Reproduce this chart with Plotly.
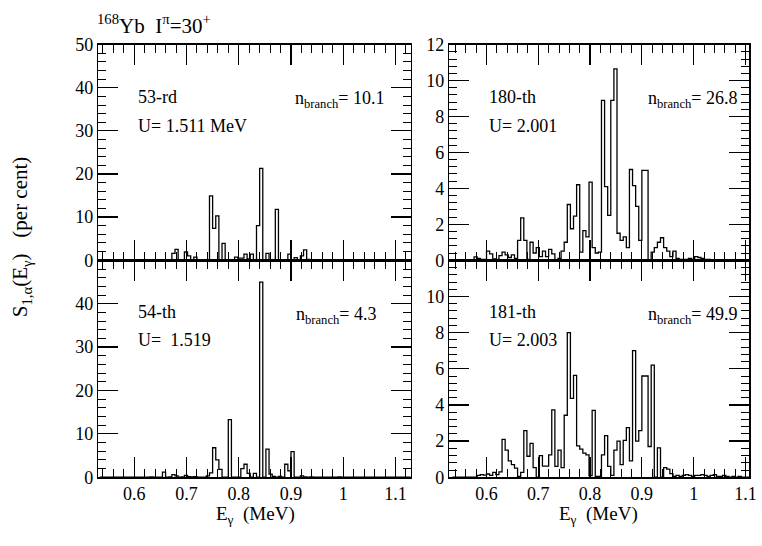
import plotly.graph_objects as go

# ---------------- data ----------------
bin_width = 0.006          # MeV
first_edge = 0.534         # lower edge of first bin (MeV)

# 53-rd state, U = 1.511 MeV  (top-left), per cent
tl_heights = [
    0, 0, 0, 0, 0, 0, 0, 0, 0, 0,
    0, 0, 0, 0, 0, 0, 0, 0, 0, 0,
    0, 0, 0, 1.6, 2.5, 0, 0, 1.9, 1.0, 0,
    0.7, 0, 0, 0, 0, 14.9, 7.4, 10.3, 0, 3.9,
    0, 0, 0.1, 0.7, 0.5, 0.5, 1.4, 0.3, 1.4, 0,
    8.0, 21.3, 0, 1.6, 0, 0, 11.8, 0, 0, 0,
    1.4, 0, 0.6, 0, 1.0, 2.4, 0.2, 0.1, 0, 0,
    0, 0, 0, 0, 0, 0, 0, 0, 0, 0,
    0, 0, 0, 0, 0, 0, 0, 0, 0, 0,
    0, 0, 0, 0, 0, 0, 0, 0, 0, 0,
]

# 54-th state, U = 1.519 (bottom-left)
bl_heights = [
    0, 0, 0, 0, 0, 0, 0, 0, 0, 0,
    0, 0, 0, 0, 0, 0, 0.1, 0, 0, 0,
    1.2, 0, 0.1, 0.6, 0.3, 0, 0.1, 0.4, 0.15, 0.1,
    0.15, 0, 0, 0, 0.3, 1.0, 6.8, 4.0, 1.8, 0,
    0, 13.3, 0, 0, 0, 2.0, 3.0, 0.9, 0, 0.9,
    0, 45.0, 0, 6.5, 0.7, 0.2, 0, 0.2, 0, 3.0,
    1.5, 5.9, 0, 0, 0.3, 0.1, 0, 0.1, 0, 0,
    0, 0, 0, 0, 0, 0, 0.1, 0, 0, 0,
    0, 0, 0, 0, 0, 0, 0, 0, 0, 0,
    0, 0, 0, 0, 0, 0, 0, 0, 0, 0,
]

# 180-th state, U = 2.001 (top-right)
tr_heights = [
    0, 0, 0, 0, 0, 0, 0, 0.18, 0.1, 0.05,
    0.05, 0.5, 0.35, 0.07, 0.05, 0.25, 0.45, 0.3, 0.15, 0.3,
    0.1, 1.1, 2.36, 1.1, 0.05, 1.0, 0.4, 0.7, 0.2, 0.5,
    0.2, 0.6, 0.35, 0, 0.1, 0.5, 1.0, 3.1, 1.75, 2.45,
    4.2, 0.45, 1.65, 1.3, 4.35, 0.7, 0.4, 0.45, 8.9, 4.1,
    2.5, 8.9, 10.65, 1.5, 1.1, 1.3, 0.7, 5.05, 4.15, 3.0,
    1.1, 5.0, 5.0, 0, 0.45, 0.7, 1.0, 1.25, 0.7, 0.5,
    0.2, 0.5, 0.1, 0.05, 0.05, 0.05, 0.1, 0.05, 0.2, 0.15,
    0.1, 0.05, 0.05, 0, 0, 0, 0, 0, 0, 0,
    0, 0, 0, 0, 0, 0, 0, 0, 0, 0,
]

# 181-th state, U = 2.003 (bottom-right)
br_heights = [
    0, 0, 0, 0, 0, 0, 0, 0, 0.1, 0.15,
    0.12, 0.18, 0.1, 0.27, 0.15, 0.3, 2.1, 1.5, 0.9, 0.7,
    0.5, 0.05, 0.27, 2.58, 1.16, 1.87, 0.53, 0, 1.2, 0.62,
    0.62, 1.24, 3.73, 0.6, 1.5, 0.53, 3.43, 8.0, 4.36, 5.64,
    1.74, 1.55, 1.33, 1.24, 0.09, 3.7, 0.05, 0.05, 1.24, 2.3,
    0.6, 0.1, 1.5, 2.0, 0.7, 2.04, 2.75, 0.9, 7.0, 2.0,
    2.58, 5.6, 5.6, 1.7, 6.2, 0, 1.63, 0, 0.53, 0.45,
    0.2, 0.05, 0.1, 0.05, 0.1, 0.15, 0.1, 0.05, 0.1, 0.1,
    0.15, 0.1, 0.05, 0.1, 0.15, 0.05, 0.05, 0.1, 0.05, 0,
    0.05, 0, 0.05, 0, 0, 0, 0, 0, 0, 0,
]

NBSP = "&#160;"
state_labels = ["53-rd", "180-th", "54-th", "181-th"]
energy_labels = ["U= 1.511 MeV", "U= 2.001", "U=" + NBSP + " 1.519", "U= 2.003"]
n_branch = ["10.1", "26.8", "4.3", "49.9"]

x_major, x_minor = 0.1, 0.02
y_left_major, y_left_minor, y_left_top = 10, 2, 50
y_right_major, y_right_minor, y_right_top = 2, 0.4, 12

# ---------------- figure ----------------
W, H = 762, 546
FONT = "Liberation Serif"

fig = go.Figure()

panels = [
    (tl_heights, "x", "y"),
    (tr_heights, "x2", "y2"),
    (bl_heights, "x3", "y3"),
    (br_heights, "x4", "y4"),
]

for heights, xa, ya in panels:
    edges = [first_edge + i * bin_width for i in range(len(heights) + 1)]
    fig.add_trace(go.Scatter(
        x=edges, y=list(heights) + [heights[-1]],
        mode="lines", line=dict(shape="hv", color="black", width=1.3),
        xaxis=xa, yaxis=ya,
    ))

def px_x(p):
    return p / W

def px_y(p):
    return 1 - p / H

left_dom = [px_x(99.5), px_x(415)]
right_dom = [px_x(454), px_x(757)]
top_dom = [px_y(259.7), px_y(36)]
bot_dom = [px_y(485), px_y(260.3)]

def common(label_color="black"):
    return dict(
        showline=True, linecolor="black", linewidth=1.5, mirror="allticks",
        ticks="inside", ticklen=20, tickwidth=1.2, tickcolor="black",
        showgrid=False, zeroline=False,
        tickfont=dict(family=FONT, size=18, color=label_color),
        ticklabeloverflow="allow", tickmode="linear", tick0=0,
    )

def minor(step):
    return dict(dtick=step, tick0=0, ticks="inside", ticklen=8,
                tickwidth=1, tickcolor="black", showgrid=False)

def xaxis(dom, rng, show_labels, anchor):
    color = "black" if show_labels else "rgba(0,0,0,0)"
    return dict(domain=dom, range=rng, anchor=anchor, dtick=x_major,
                minor=minor(x_minor), **common(color))

def yaxis(dom, top, major, minor_step, anchor, hide_top):
    top_val = top * 0.998 if hide_top else top
    return dict(domain=dom, range=[0, top_val], anchor=anchor, dtick=major,
                minor=minor(minor_step), **common())

left_rng = [0.5315, 1.129]
right_rng = [0.528, 1.107]

fig.update_layout(
    width=W, height=H,
    margin=dict(l=0, r=0, t=0, b=0),
    showlegend=False, plot_bgcolor="white", paper_bgcolor="white",
    xaxis=xaxis(left_dom, left_rng, False, "y"),
    xaxis2=xaxis(right_dom, right_rng, False, "y2"),
    xaxis3=xaxis(left_dom, left_rng, True, "y3"),
    xaxis4=xaxis(right_dom, right_rng, True, "y4"),
    yaxis=yaxis(top_dom, y_left_top, y_left_major, y_left_minor, "x", False),
    yaxis2=yaxis(top_dom, y_right_top, y_right_major, y_right_minor, "x2", False),
    yaxis3=yaxis(bot_dom, y_left_top, y_left_major, y_left_minor, "x3", True),
    yaxis4=yaxis(bot_dom, y_right_top, y_right_major, y_right_minor, "x4", True),
)

txt_font = dict(family=FONT, size=18, color="black")
pos = [
    (137, 390, 90, 120),
    (492, 747, 90, 120),
    (137, 382, 314, 343),
    (492, 747, 314, 343),
]
for i, (xl, xr, y1, y2) in enumerate(pos):
    fig.add_annotation(x=px_x(xl), y=px_y(y1), xref="paper", yref="paper",
                       text=state_labels[i], showarrow=False,
                       xanchor="left", yanchor="middle", font=txt_font)
    fig.add_annotation(x=px_x(xl), y=px_y(y2), xref="paper", yref="paper",
                       text=energy_labels[i], showarrow=False,
                       xanchor="left", yanchor="middle", font=txt_font)
    fig.add_annotation(x=px_x(xr), y=px_y(y1 + 3), xref="paper", yref="paper",
                       text="n<sub>branch</sub>= " + n_branch[i], showarrow=False,
                       xanchor="right", yanchor="middle", font=txt_font)

fig.add_annotation(x=px_x(96), y=px_y(15), xref="paper", yref="paper",
                   text="<sup>168</sup>Yb" + NBSP + " I<sup>&#960;</sup>=30<sup>+</sup>",
                   showarrow=False, xanchor="left", yanchor="middle",
                   font=dict(family=FONT, size=21, color="black"))
fig.add_annotation(x=px_x(22), y=px_y(235), xref="paper", yref="paper",
                   text="S<sub>1,&#945;</sub>(E<sub>&#947;</sub>)" + NBSP + NBSP + " (per cent)",
                   textangle=-90, showarrow=False, xanchor="center", yanchor="middle",
                   font=dict(family=FONT, size=21, color="black"))
for xc in (258, 605):
    fig.add_annotation(x=px_x(xc), y=px_y(524), xref="paper", yref="paper",
                       text="E<sub>&#947;</sub>" + NBSP + " (MeV)", showarrow=False,
                       xanchor="center", yanchor="middle",
                       font=dict(family=FONT, size=19, color="black"))

fig.write_html("out.html", config={"staticPlot": True})
